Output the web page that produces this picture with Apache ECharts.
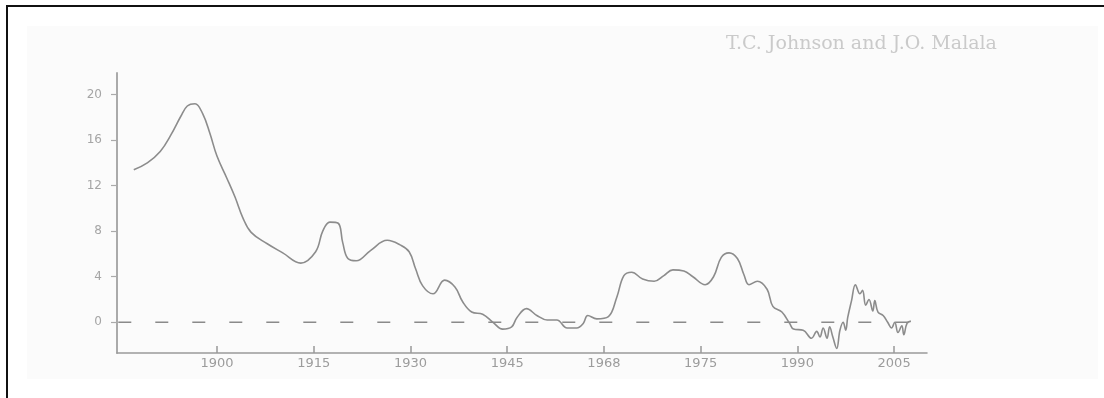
<!DOCTYPE html>
<html>
<head>
<meta charset="utf-8">
<script src="https://cdn.jsdelivr.net/npm/echarts@6/dist/echarts.min.js"></script>
<style>
html, body { margin: 0; padding: 0; background: #fff; }
#main { width: 1104px; height: 398px; }
</style>
</head>
<body>
<div id="main"></div>
<script>
// years / values
const years = [1887.1, 1889.2, 1891.2, 1892.9, 1894.4, 1895.4, 1896.6, 1897.8, 1898.9, 1900.0,
  1901.5, 1902.8, 1904.0, 1905.3, 1907.8, 1910.2, 1913.0, 1915.3, 1916.4, 1917.5,
  1918.8, 1919.5, 1920.3, 1921.6, 1923.8, 1926.4, 1928.4, 1929.8, 1930.8, 1931.9,
  1933.5, 1935.3, 1936.9, 1938.1, 1939.5, 1941.2, 1942.8, 1944.3, 1945.7, 1946.5,
  1948.0, 1949.6, 1951.2, 1952.7, 1954.3, 1955.8, 1956.8, 1957.5, 1958.9, 1960.7,
  1962.0, 1963.1, 1964.3, 1966.0, 1967.8, 1969.3, 1970.7, 1972.4, 1973.8, 1975.7,
  1977.0, 1978.2, 1979.4, 1980.7, 1981.7, 1982.5, 1983.8, 1985.3, 1986.2, 1987.6,
  1988.8, 1989.4, 1990.9, 1992.2, 1993.0, 1993.5, 1994.0, 1994.6, 1995.0, 1995.5,
  1996.1, 1996.6, 1997.1, 1997.5, 1997.8, 1998.4, 1999.0, 1999.7, 2000.1, 2000.6,
  2001.1, 2001.7, 2002.0, 2002.5, 2003.3, 2004.0, 2004.6, 2005.1, 2005.6, 2006.2,
  2006.5, 2007.0, 2007.6]
const values = [13.4, 14.0, 15.0, 16.5, 18.1, 19.0, 19.2, 18.3, 16.6, 14.6,
  12.7, 11.0, 9.2, 7.9, 6.9, 6.1, 5.2, 6.2, 8.0, 8.8,
  8.7, 7.0, 5.6, 5.4, 6.3, 7.2, 6.8, 6.2, 4.7, 3.2,
  2.5, 3.7, 3.1, 1.8, 0.9, 0.7, 0.0, -0.6, -0.4, 0.4,
  1.2, 0.6, 0.2, 0.2, -0.5, -0.5, -0.1, 0.6, 0.3, 0.5,
  2.2, 4.1, 4.4, 3.8, 3.6, 4.1, 4.6, 4.5, 4.0, 3.3,
  4.0, 5.7, 6.1, 5.6, 4.2, 3.3, 3.6, 2.9, 1.4, 0.9,
  -0.1, -0.6, -0.7, -1.4, -0.8, -1.3, -0.5, -1.4, -0.4, -1.3,
  -2.3, -0.7, 0.0, -0.7, 0.4, 1.9, 3.3, 2.5, 2.8, 1.5,
  2.0, 1.0, 1.9, 0.9, 0.6, 0.0, -0.5, 0.0, -0.9, -0.3,
  -1.1, -0.1, 0.1]

// axis ticks as printed
const xTicks = [1900, 1915, 1930, 1945, 1960, 1975, 1990, 2005]
const xTickLabels = ['1900', '1915', '1930', '1945', '1968', '1975', '1990', '2005']
const yTicks = [0, 4, 8, 12, 16, 20]

// dashed zero reference
const zeroX = [1884.7, 2008]
const zeroY = [0, 0]

const credit = 'T.C. Johnson and J.O. Malala'

const curve = years.map((y, i) => [y, values[i]])
const zero = zeroX.map((x, i) => [x, zeroY[i]])

const myEcharts = echarts.init(document.getElementById('main'))
const option = {
    animation: false,
    backgroundColor: '#fff',
    graphic: [
        // scanned page area
        { type: 'rect', z: -10, shape: { x: 27, y: 26, width: 1071, height: 353 }, style: { fill: '#fbfbfb' } },
        // frame of the scan
        { type: 'rect', z: 10, shape: { x: 6, y: 5, width: 1100, height: 2 }, style: { fill: '#111' } },
        { type: 'rect', z: 10, shape: { x: 6, y: 5, width: 2, height: 395 }, style: { fill: '#111' } },
        {
            type: 'text', left: 726, top: 35,
            style: { text: credit, font: '19px "DejaVu Serif"', fill: '#cacaca' }
        }
    ],
    grid: { left: 117, right: 177, top: 73, bottom: 45 },
    xAxis: {
        type: 'value',
        min: 1884.5,
        max: 2010.1,
        splitLine: { show: false },
        axisLine: { onZero: false, lineStyle: { color: '#9a9a9a', width: 1.5 } },
        axisTick: {
            inside: true, length: 7, customValues: xTicks,
            lineStyle: { color: '#999', width: 1.5 }
        },
        axisLabel: {
            customValues: xTicks,
            margin: 4,
            color: '#9c9c9c',
            fontFamily: 'DejaVu Sans',
            fontSize: 13,
            formatter: v => xTickLabels[xTicks.indexOf(v)]
        }
    },
    yAxis: {
        type: 'value',
        min: -2.7,
        max: 21.9,
        splitLine: { show: false },
        axisLine: { show: true, onZero: false, lineStyle: { color: '#aaa', width: 2 } },
        axisTick: {
            show: true, length: 6, customValues: yTicks,
            lineStyle: { color: '#aaa', width: 1.2 }
        },
        axisLabel: {
            customValues: yTicks,
            margin: 15,
            color: '#a5a5a5',
            fontFamily: 'DejaVu Sans',
            fontSize: 12
        }
    },
    series: [
        {
            type: 'line',
            data: zero,
            symbol: 'none',
            silent: true,
            lineStyle: { color: '#8a8a8a', width: 1.3, type: [13, 24] }
        },
        {
            type: 'line',
            data: curve,
            symbol: 'none',
            smooth: 0.4,
            lineStyle: { color: '#8c8c8c', width: 1.6 }
        }
    ]
}
myEcharts.setOption(option)
window.addEventListener('resize', () => {
    myEcharts.resize()
})
</script>
</body>
</html>
